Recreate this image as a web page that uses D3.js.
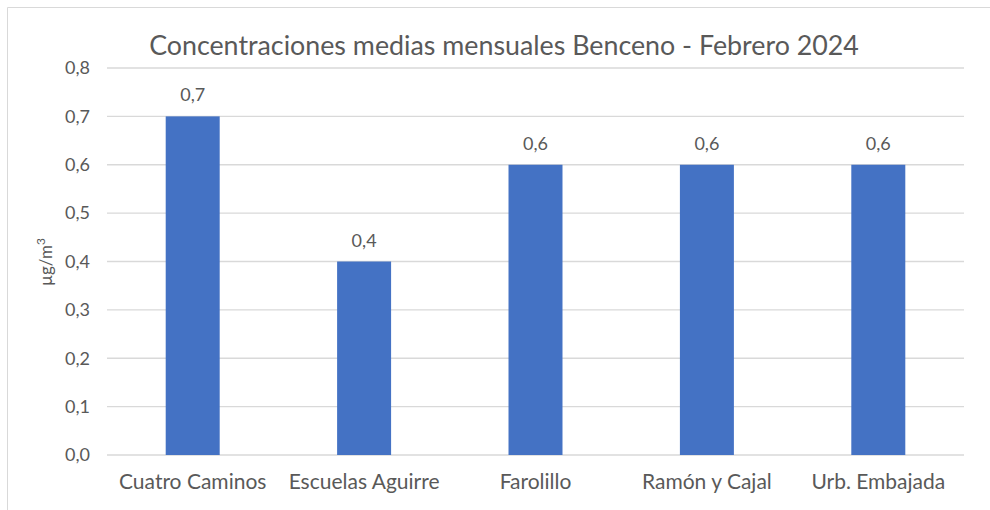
<!DOCTYPE html>
<html><head><meta charset="utf-8">
<script src="https://cdn.jsdelivr.net/npm/d3@7"></script>
<style>body{margin:0;background:#fff}svg{display:block}text{font-family:Lato,"Open Sans",sans-serif;fill:#595959}</style>
</head><body>
<svg id="c" width="990" height="510"></svg>
<script>
const categories = ["Cuatro Caminos","Escuelas Aguirre","Farolillo","Ramón y Cajal","Urb. Embajada"];
const values = [0.7,0.4,0.6,0.6,0.6];
const yTicks = [0,0.1,0.2,0.3,0.4,0.5,0.6,0.7,0.8];
const title = "Concentraciones medias mensuales Benceno - Febrero 2024";
const fmt = v => d3.format(".1f")(v).replace(".", ",");

const svg = d3.select("#c");
svg.append("path").attr("d","M7.5,510V7.5H990").attr("fill","none").attr("stroke","#d9d9d9").attr("stroke-width",1);

const m = {l:107, r:964, t:68, b:455};
const x = d3.scaleBand().domain(categories).range([m.l, m.r]).paddingInner(0.685).paddingOuter(0.3425);
const y = d3.scaleLinear().domain([0,0.8]).range([m.b, m.t]);

const g = svg.append("g");
g.selectAll("line.grid").data(yTicks).join("line").attr("class","grid")
  .attr("x1",m.l).attr("x2",m.r).attr("y1",d=>y(d)).attr("y2",d=>y(d))
  .attr("stroke","#d9d9d9").attr("stroke-width",1.3);

const yAxis = d3.axisLeft(y).tickValues(yTicks).tickFormat(fmt).tickSize(0).tickPadding(17);
svg.append("g").attr("transform",`translate(${m.l},0)`).call(yAxis)
  .call(s=>s.select(".domain").remove())
  .selectAll("text").attr("font-size",18).style("fill","#595959").attr("font-family","Lato");

g.selectAll("rect").data(values).join("rect")
  .attr("x",(d,i)=>x(categories[i])).attr("width",x.bandwidth())
  .attr("y",d=>y(d)).attr("height",d=>y(0)-y(d)).attr("fill","#4472C4");

g.selectAll("text.lbl").data(values).join("text").attr("class","lbl")
  .attr("x",(d,i)=>x(categories[i])+x.bandwidth()/2).attr("y",d=>y(d)-15)
  .attr("text-anchor","middle").attr("font-size",18).text(fmt);

const xAxis = d3.axisBottom(x).tickSize(0).tickPadding(19);
svg.append("g").attr("transform",`translate(0,${m.b})`).call(xAxis)
  .call(s=>s.select(".domain").remove())
  .selectAll("text").attr("font-size",21).style("fill","#595959").attr("font-family","Lato");

svg.append("text").attr("x",504).attr("y",55).attr("text-anchor","middle").attr("font-size",26.8).text(title);

svg.append("text").attr("transform","translate(52,262) rotate(-90)").attr("text-anchor","middle").attr("font-size",17)
  .html('µg/m<tspan dy="-7" font-size="12">3</tspan>');
</script>
</body></html>
